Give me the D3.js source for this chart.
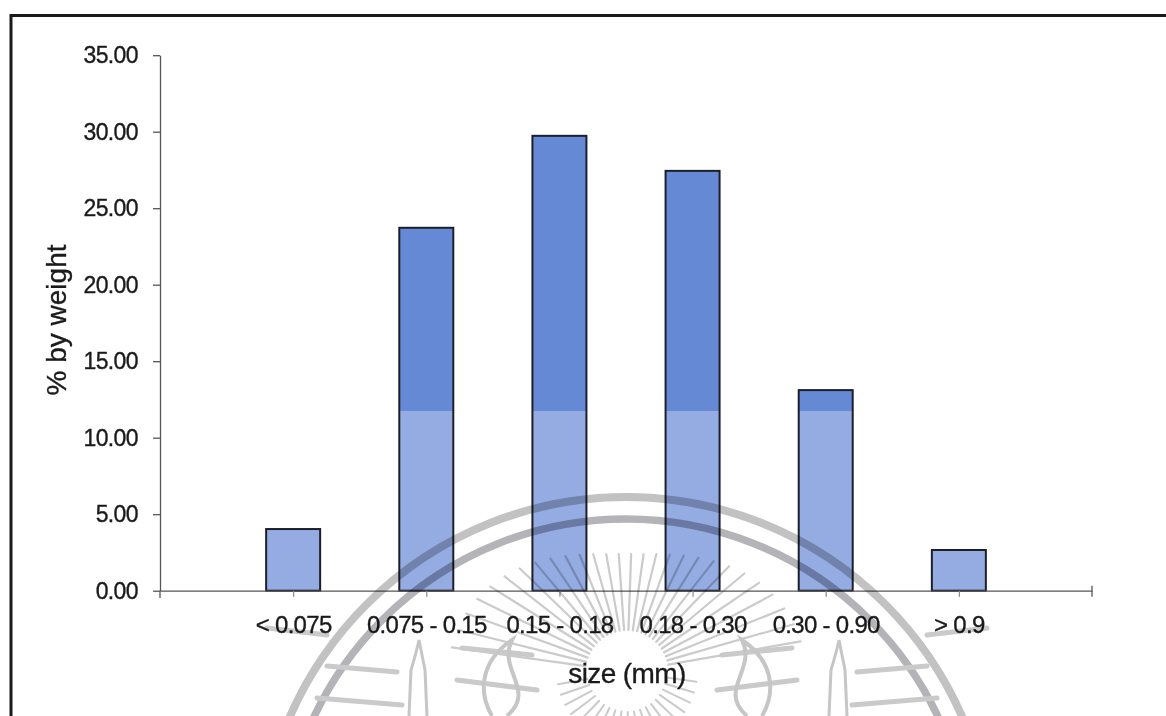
<!DOCTYPE html>
<html>
<head>
<meta charset="utf-8">
<script src="https://cdn.jsdelivr.net/npm/d3@7"></script>
<style>
  html, body { margin: 0; padding: 0; background: #fff; }
  svg { display: block; }
  text { font-family: "Liberation Sans", Arial, sans-serif; fill: #1a1a1a; stroke: #1a1a1a; stroke-width: 0.35px; }
</style>
</head>
<body>
<svg id="chart" width="1166" height="716"></svg>
<script>
// Particle size distribution (% by weight per size class)
const categories = ["< 0.075", "0.075 - 0.15", "0.15 - 0.18", "0.18 - 0.30", "0.30 - 0.90", "> 0.9"];
const values = [4.03, 23.72, 29.73, 27.44, 13.11, 2.66];
const yTicks = [0, 5, 10, 15, 20, 25, 30, 35];

const svg = d3.select("#chart");
const W = 1166, H = 716;

const plotLeft = 160, plotRight = 1092, plotTop = 55.2, plotBottom = 590.7;

// categories sit on slots 1..6 of a 7-slot axis
const x = d3.scaleLinear().domain([0, categories.length + 1]).range([plotLeft, plotRight]);
const y = d3.scaleLinear().domain([0, 35]).range([plotBottom, plotTop]);
const barW = 54;

// bar fills
const bars = svg.append("g");
bars.selectAll("rect.fill")
  .data(values)
  .join("rect")
  .attr("class", "fill")
  .attr("x", (d, i) => x(i + 1) - barW / 2)
  .attr("y", d => y(d))
  .attr("width", barW)
  .attr("height", d => y(0) - y(d))
  .attr("fill", "#6689d6");

// lighter wash over the lower part of the page
svg.append("rect")
  .attr("x", 20).attr("y", 411).attr("width", W - 20).attr("height", H - 411)
  .attr("fill", "#fff").attr("opacity", 0.3);

// bar outlines
svg.append("g").selectAll("rect")
  .data(values)
  .join("rect")
  .attr("x", (d, i) => x(i + 1) - barW / 2)
  .attr("y", d => y(d))
  .attr("width", barW)
  .attr("height", d => y(0) - y(d))
  .attr("fill", "none")
  .attr("stroke", "#1c1f2a")
  .attr("stroke-width", 2);

// outer frame
svg.append("path")
  .attr("d", `M11,${H} L11,15.5 L${W},15.5`)
  .attr("fill", "none").attr("stroke", "#1a1a1a").attr("stroke-width", 3);

// y axis
const yAxis = svg.append("g")
  .attr("transform", `translate(${plotLeft},0)`)
  .call(d3.axisLeft(y).tickValues(yTicks).tickFormat(d3.format(".2f"))
    .tickSize(7).tickSizeOuter(0).tickPadding(15));
yAxis.select(".domain").attr("stroke", "#555").attr("stroke-width", 1.3);
yAxis.selectAll(".tick line").attr("stroke", "#555").attr("stroke-width", 1.3);
yAxis.selectAll("text").attr("font-size", 23).attr("fill", "#1a1a1a")
  .attr("font-family", "Liberation Sans, Arial, sans-serif").attr("letter-spacing", -0.6);
svg.append("line").attr("x1", plotLeft).attr("x2", plotLeft).attr("y1", plotBottom).attr("y2", 598)
  .attr("stroke", "#555").attr("stroke-width", 1.3);

// x axis
const xAxis = svg.append("g")
  .attr("transform", `translate(0,${plotBottom})`)
  .call(d3.axisBottom(x).tickValues(d3.range(1, categories.length + 1))
    .tickFormat(i => categories[i - 1]).tickSize(6).tickSizeOuter(0).tickPadding(19));
xAxis.select(".domain").attr("stroke", "#555").attr("stroke-width", 1.3);
xAxis.selectAll(".tick line").attr("stroke", "#888").attr("stroke-width", 1.2);
xAxis.selectAll("text").attr("font-size", 24).attr("fill", "#1a1a1a")
  .attr("font-family", "Liberation Sans, Arial, sans-serif").attr("letter-spacing", -0.7);
svg.append("line")
  .attr("x1", x(categories.length + 1)).attr("x2", x(categories.length + 1))
  .attr("y1", plotBottom - 5).attr("y2", plotBottom + 6)
  .attr("stroke", "#555").attr("stroke-width", 1.3);

// axis titles
svg.append("text")
  .attr("transform", "translate(66,320) rotate(-90)")
  .attr("text-anchor", "middle")
  .attr("font-size", 28)
  .text("% by weight");

svg.append("text")
  .attr("x", 627).attr("y", 683)
  .attr("text-anchor", "middle")
  .attr("font-size", 28)
  .attr("letter-spacing", -0.6)
  .text("size (mm)");

// faint seal stamped over the lower part of the page
const seal = svg.append("g").style("mix-blend-mode", "multiply");
const cx = 626, cy = 864;
seal.append("circle").attr("cx", cx).attr("cy", cy).attr("r", 367)
  .attr("fill", "none").attr("stroke", "#c2c2c2").attr("stroke-width", 8);
seal.append("circle").attr("cx", cx).attr("cy", cy).attr("r", 345)
  .attr("fill", "none").attr("stroke", "#b4b4b8").attr("stroke-width", 7.5);

const rc = [627, 672];
const rays = seal.append("g").attr("stroke", "#cbcbcb").attr("stroke-linecap", "round");
d3.range(-172, -7, 6).forEach(a => {
  const t = a * Math.PI / 180;
  const r0 = 42, r1 = 118 + 60 * Math.pow(Math.cos(t), 2);
  rays.append("line")
    .attr("x1", rc[0] + r0 * Math.cos(t)).attr("y1", rc[1] + r0 * Math.sin(t))
    .attr("x2", rc[0] + r1 * Math.cos(t)).attr("y2", rc[1] + r1 * Math.sin(t))
    .attr("stroke-width", 2.2);
});
d3.range(8, 175, 9).forEach(a => {
  const t = a * Math.PI / 180;
  rays.append("line")
    .attr("x1", rc[0] + 40 * Math.cos(t)).attr("y1", rc[1] + 40 * Math.sin(t))
    .attr("x2", rc[0] + 70 * Math.cos(t)).attr("y2", rc[1] + 70 * Math.sin(t))
    .attr("stroke-width", 2);
});

// side dashes of the seal
const dashes = seal.append("g").attr("stroke", "#cacaca").attr("stroke-linecap", "round").attr("stroke-width", 5);
[-1, 1].forEach(s => {
  [[95, 655, 165, 648], [90, 690, 170, 680], [230, 672, 300, 666], [225, 705, 310, 698],
   [300, 635, 360, 628]].forEach(([a, yy, b, yy2]) => {
    dashes.append("line")
      .attr("x1", rc[0] + s * a).attr("y1", yy)
      .attr("x2", rc[0] + s * b).attr("y2", yy2);
  });
});
// flame and lamp outlines
const shapes = seal.append("g").attr("fill", "none").attr("stroke", "#c6c6c6").attr("stroke-width", 4);
[-1, 1].forEach(s => {
  const fx = rc[0] + s * 120;
  shapes.append("path")
    .attr("d", `M${fx},716 C${fx - s * 30},690 ${fx + s * 10},670 ${fx - s * 5},640 C${fx + s * 25},660 ${fx + s * 30},690 ${fx + s * 15},716`);
  const lx = rc[0] + s * 210;
  shapes.append("path")
    .attr("d", `M${lx - 8},716 L${lx - 6},670 Q${lx},650 ${lx + 2},640 Q${lx + 6},660 ${lx + 8},670 L${lx + 10},716`)
    .attr("stroke-width", 3);
});
</script>
</body>
</html>
